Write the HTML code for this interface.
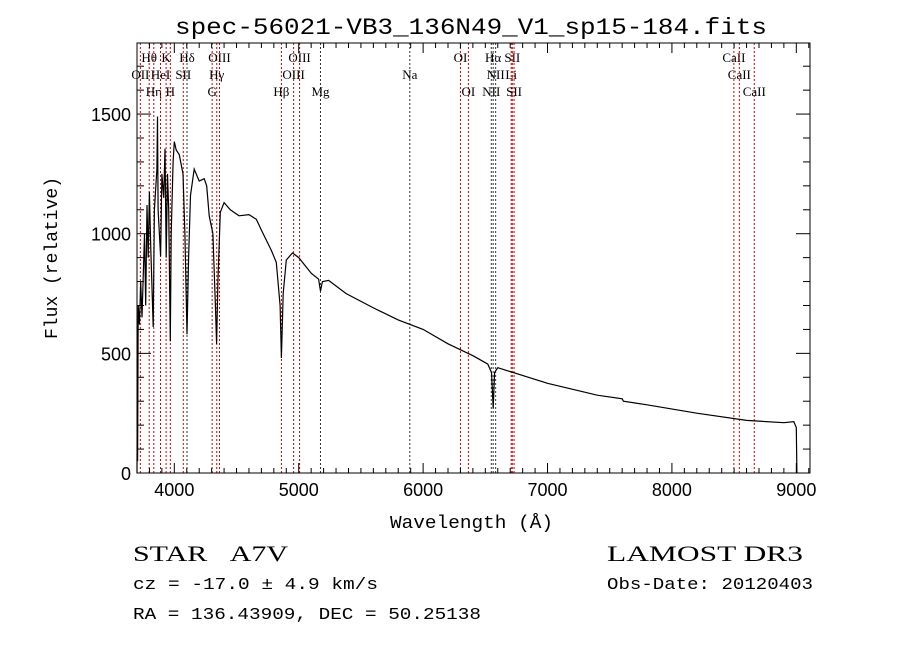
<!DOCTYPE html>
<html><head><meta charset="utf-8"><style>
body{margin:0;background:#fff;width:900px;height:649px;overflow:hidden}
svg{display:block}
.m{font-family:"Liberation Mono",monospace}
.s{font-family:"Liberation Serif",serif}
</style></head><body>
<svg id="c" width="900" height="649">
<text class="m" x="175" y="34" font-size="23" textLength="592" lengthAdjust="spacingAndGlyphs">spec-56021-VB3_136N49_V1_sp15-184.fits</text>
<text class="m" x="390" y="528" font-size="18" textLength="163" lengthAdjust="spacingAndGlyphs">Wavelength (Å)</text>
<text class="m" x="57" y="258" font-size="18" text-anchor="middle" transform="rotate(-90 57 258)">Flux (relative)</text>
<text class="s" x="133" y="561" font-size="22" textLength="155" lengthAdjust="spacingAndGlyphs">STAR &#160;&#160;A7V</text>
<text class="m" x="133" y="589" font-size="17" textLength="245" lengthAdjust="spacingAndGlyphs">cz = -17.0 ± 4.9 km/s</text>
<text class="m" x="133" y="619" font-size="17" textLength="348" lengthAdjust="spacingAndGlyphs">RA = 136.43909, DEC =  50.25138</text>
<text class="s" x="607" y="561" font-size="22" textLength="196" lengthAdjust="spacingAndGlyphs">LAMOST DR3</text>
<text class="m" x="607" y="589" font-size="17" textLength="206" lengthAdjust="spacingAndGlyphs">Obs-Date: 20120403</text>
<g id="lines"></g><g id="ax"></g><g id="sp"></g>
</svg>
<script>
const X0=3700,X1=9110,Y0=0,Y1=1797;
const px=137,pw=673,py=43,ph=430;
const sx=w=>px+(w-X0)/(X1-X0)*pw, sy=f=>py+ph-(f-Y0)/(Y1-Y0)*ph;
const xTicks=[4000,5000,6000,7000,8000,9000];
const yTicks=[0,500,1000,1500];
const lineWl=[3727,3798,3835,3889,3934,3968,4072,4102,4304,4341,4363,4861,4959,5007,5175,5893,6300,6364,6548,6563,6583,6708,6717,6731,8498,8542,8662];
const lineLab=["OII","Hθ","Hη","HeI","K","H","SII","Hδ","G","Hγ","OIII","Hβ","OIII","OIII","Mg","Na","OI","OI","NII","Hα","NII","Li","SII","SII","CaII","CaII","CaII"];
const lineRow=[1,0,2,1,0,2,1,0,2,1,0,2,1,0,2,1,0,2,2,0,1,1,0,2,0,1,2];
const lineBlack=[0,0,0,0,0,0,0,1,0,0,0,0,0,0,1,1,0,0,1,1,1,0,0,0,0,0,0];
const wl=[3700,3702,3705,3710,3720,3730,3740,3760,3770,3780,3790,3800,3810,3830,3840,3860,3865,3870,3890,3900,3915,3925,3935,3945,3955,3968,3975,3990,4000,4015,4040,4070,4085,4102,4115,4130,4160,4200,4240,4260,4280,4310,4330,4340,4350,4370,4400,4450,4520,4600,4660,4700,4780,4820,4850,4861,4875,4900,4950,5000,5100,5160,5175,5190,5240,5380,5600,5800,6000,6200,6400,6520,6550,6563,6575,6600,7000,7400,7600,7610,7800,8200,8600,8900,8980,9000,9005];
const flux=[0,300,50,700,620,800,650,1000,700,1120,900,1175,950,610,1100,1270,1490,1100,905,1250,1150,1355,900,1250,1100,550,1000,1300,1385,1350,1330,1250,1000,580,900,1160,1270,1220,1230,1200,1075,1000,700,540,800,1090,1130,1100,1075,1080,1060,1015,930,880,700,480,750,890,920,900,835,810,760,800,805,750,690,640,600,540,490,455,420,270,420,440,375,325,310,300,285,250,220,210,215,190,0];
const NS="http://www.w3.org/2000/svg";
function mk(t,a,p){const e=document.createElementNS(NS,t);for(const k in a)e.setAttribute(k,a[k]);p.appendChild(e);return e;}
const L=document.getElementById('lines'),A=document.getElementById('ax'),S=document.getElementById('sp');
lineWl.forEach((w,i)=>{const x=sx(w);
 const l=mk('line',{x1:x,x2:x,y1:py,y2:py+ph,stroke:lineBlack[i]?'#333':'#c00','stroke-width':1,'stroke-dasharray':'2,2'},L);
 
 
 const t=mk('text',{x:x,y:62+lineRow[i]*17,'font-size':13,'text-anchor':'middle','class':'s'},L);t.textContent=lineLab[i];
 
 
});
const fr=mk('rect',{x:px,y:py,width:pw,height:ph,fill:'none',stroke:'#000'},A);


for(let w=3800;w<=X1;w+=100){const x=sx(w),big=w%1000==0,len=big?10:5;
 mk('line',{x1:x,x2:x,y1:py+ph,y2:py+ph-len,stroke:'#000'},A);mk('line',{x1:x,x2:x,y1:py,y2:py+len,stroke:'#000'},A);}
xTicks.forEach(w=>{const t=mk('text',{x:sx(w),y:py+ph+23,'font-size':18,'text-anchor':'middle','font-family':'Liberation Sans, sans-serif'},A);t.textContent=w;
 
 });
for(let f=0;f<=Y1;f+=100){const y=sy(f),big=f%500==0,len=big?14:7;
 mk('line',{x1:px,x2:px+len,y1:y,y2:y,stroke:'#000'},A);mk('line',{x1:px+pw,x2:px+pw-len,y1:y,y2:y,stroke:'#000'},A);}
yTicks.forEach(f=>{const t=mk('text',{x:px-6,y:sy(f)+7,'font-size':18,'text-anchor':'end','font-family':'Liberation Sans, sans-serif'},A);t.textContent=f;
 
 });
const d=wl.map((w,i)=>(i?'L':'M')+sx(w).toFixed(1)+','+sy(flux[i]).toFixed(1)).join('');
const p=mk('path',{d:d,fill:'none',stroke:'#000','stroke-width':1.2},S);


</script>
</body></html>
